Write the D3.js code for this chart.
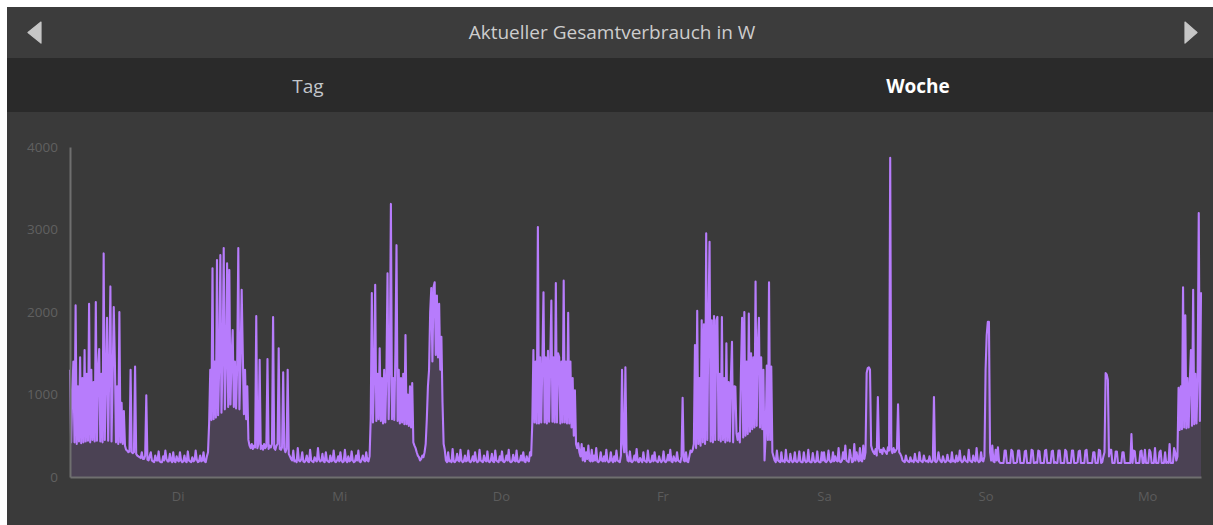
<!DOCTYPE html>
<html lang="de">
<head>
<meta charset="utf-8">
<title>Aktueller Gesamtverbrauch</title>
<script src="https://cdn.jsdelivr.net/npm/d3@7"></script>
<style>
  html, body { margin: 0; padding: 0; background: #ffffff; }
  svg { display: block; }
  text { font-family: "Open Sans", "Noto Sans", sans-serif; }
</style>
</head>
<body>
<svg id="chart" width="1213" height="525"></svg>
<script>
// Leistungswerte in W, 10-Minuten-Raster, ab Montag 08:00
const montagStart = [
  1300, 420, 1000, 1400, 420, 2080, 400, 1100, 430, 1450, 410, 1200,
  420, 1540, 430, 1250, 440, 2100, 420, 1300, 450, 1150, 430, 2120,
  440, 1300, 1550, 430, 1250, 420, 2710, 450, 1200, 1930, 440, 1300,
  2310, 430, 1200, 2060, 1400, 420, 1100, 400, 2000, 420, 900, 400,
  800, 380, 330, 320, 300, 310, 1300, 300, 290, 300, 1340, 280,
  260, 250, 240, 230, 300, 220, 220, 260, 990, 210, 200, 250,
  300, 200, 190, 180, 260, 200, 200, 310, 190, 180, 180, 250,
  200, 320, 220, 190, 190, 280, 200, 180, 300, 190, 180, 250
];
const dienstag = [
  200, 190, 300, 200, 180, 190, 260, 190, 180, 310, 200, 190, 180, 240,
  190, 200, 320, 210, 180, 190, 260, 190, 200, 300, 190, 180, 250, 300,
  650, 1300, 690, 2530, 700, 1400, 720, 2630, 750, 1350, 2690, 780,
  1450, 2775, 820, 1400, 2590, 850, 2510, 880, 1450, 1780, 850, 1400,
  830, 1350, 2775, 820, 1400, 2270, 1500, 760, 1300, 700, 1100,
  450, 380, 350, 400, 340, 380, 360, 1950, 350, 400, 1420, 340, 380,
  330, 400, 350, 370, 1430, 340, 380, 360, 400, 1940, 350, 330, 380,
  400, 1560, 340, 330, 360, 1270, 350, 300, 340, 1300, 280,
  250, 220, 200, 320, 190, 200, 180, 350, 200, 190, 210, 300, 190, 180, 200,
  260, 190, 180, 330, 200, 190, 180, 240, 200, 190, 350, 210, 190, 200, 280,
  190, 180, 300, 200, 190, 180, 260, 190, 200, 320, 190, 180, 200, 250
];
const mittwoch = [
  190, 300, 200, 180, 190, 330, 200, 180, 250, 190, 200, 310, 200, 180,
  190, 260, 200, 320, 190, 180, 210, 260, 200, 190, 300, 200, 190, 250,
  700, 2230, 660, 1200, 2330, 680, 1250, 700, 1560, 680, 1200, 650, 1300,
  660, 1250, 2470, 700, 1300, 3310, 700, 1200, 690, 1500, 2810, 680, 1300,
  650, 1200, 660, 1250, 640, 1720, 640, 1000, 620, 1100, 600, 1140,
  420, 380, 350, 300, 260, 240, 200, 220, 260, 240, 300, 400,
  700, 1100, 1300, 2000, 2290, 1400, 2300, 2360, 1480, 2200, 1450, 2100, 1300, 1700, 900, 400, 330,
  200, 180, 300, 190, 200, 180, 340, 190, 180, 200, 280, 200, 190, 330, 200, 180, 190,
  260, 190, 200, 320, 190, 180, 200, 250, 190, 300, 200, 180, 190, 330, 200, 190,
  180, 260, 200, 190, 310, 190, 180, 200, 280, 190, 180, 320, 200, 190, 180, 250
];
const donnerstag = [
  200, 310, 190, 180, 200, 260, 200, 330, 190, 180, 190, 270, 200, 190,
  320, 190, 180, 200, 260, 200, 300, 190, 180, 250, 200, 190, 300, 260,
  650, 1540, 660, 1400, 650, 3030, 650, 1450, 660, 1400, 2240, 660, 1450,
  650, 1530, 670, 1400, 2140, 670, 1450, 660, 2350, 660, 1500, 1450, 650,
  1400, 660, 2380, 660, 1400, 650, 1990, 650, 1400, 600, 1200, 500, 1050,
  400, 350, 410, 300, 250, 400, 200, 350, 190, 300, 220, 380, 200, 190,
  330, 190, 260, 200, 350, 190, 180, 200, 300, 200, 190, 250, 190, 330,
  200, 180, 190, 300, 200, 180, 250, 190, 320, 200, 190, 180, 260,
  1300, 400, 300, 1330, 300, 200,
  190, 310, 190, 180, 200, 260, 200, 340, 190, 180, 230, 200, 180, 300, 200,
  190, 180, 320, 200, 180, 190, 260, 190, 300, 200, 190, 180, 250, 200, 180
];
const freitag = [
  200, 310, 190, 180, 200, 270, 200, 330, 190, 180, 250, 200, 190, 300,
  200, 190, 180, 250, 960, 200, 190, 300, 190, 180, 250, 320, 300, 330,
  400, 1600, 350, 2015, 400, 1200, 380, 1900, 420, 1850, 400, 2955,
  450, 1900, 2850, 430, 1900, 420, 1950, 450, 1900, 1940, 450, 1250,
  430, 1940, 450, 1200, 420, 1620, 440, 1150, 430, 1200, 1640, 420,
  1100, 1095, 530, 450, 530, 420, 1300, 1930, 480, 2000, 500, 1400,
  520, 1980, 550, 1500, 580, 1450, 600, 2370, 620, 1600, 1930, 600,
  1450, 580, 1300, 200, 500, 1350, 450, 2360, 450, 1340, 300,
  250, 200, 180, 320, 200, 190, 180, 300, 190, 200, 180, 330, 200, 190, 180,
  280, 200, 180, 190, 300, 190, 180, 200, 310, 190, 180, 180, 300, 200, 180,
  190, 330, 190, 180, 180, 290, 200, 180, 190, 310, 190, 180, 180, 300, 200
];
const samstag = [
  300, 190, 180, 200, 320, 200, 180, 190, 300, 190, 250, 200, 190,
  350, 190, 180, 200, 300, 220, 380, 200, 190, 180, 330, 250, 180,
  190, 400, 200, 300, 220, 190, 350, 200, 190, 380, 220, 300,
  1260, 1320, 1330, 1300, 380,
  330, 300, 280, 340, 260, 970, 350, 300, 330, 280, 350, 320,
  300, 280, 360, 320, 3870, 330, 290, 350, 300, 320, 340,
  880,
  300, 280, 250, 200, 190, 180, 260, 200, 190, 180, 240, 190, 200, 180, 280, 200,
  190, 180, 300, 200, 190, 180, 260, 200, 190, 200, 180, 250, 190, 180, 200, 970,
  190, 180, 200, 300, 220, 190, 180, 250, 200, 180, 190, 270, 200, 190, 180,
  300, 190, 200, 180, 260, 190, 200, 320, 200, 180, 190, 250, 200, 190, 180,
  330, 200, 190, 180, 260, 200, 190, 350, 200, 180, 190, 300, 200, 190, 250
];
const sonntag = [
  1300, 1720, 1880, 1880, 300,
  200, 380, 190, 180, 330, 200, 360, 190,
  170, 170, 170, 170, 320, 320, 170, 170, 170, 170, 330, 310,
  170, 170, 170, 180, 320, 320, 170, 170, 170, 170, 310, 320,
  170, 170, 170, 170, 330, 320, 170, 170, 180, 170, 320, 310,
  170, 170, 170, 170, 320, 330, 170, 170, 170, 170, 310, 320,
  170, 180, 170, 170, 320, 320, 170, 170, 170, 170, 330, 310,
  170, 170, 170, 170, 320, 320, 170, 170, 170, 180, 310, 320,
  170, 170, 170, 170, 320, 330, 170, 170, 170,
  170, 170, 300, 300, 170, 170, 170, 330, 320, 170, 180, 250, 300,
  1260, 1240, 1180,
  250, 330, 330, 170, 170, 170, 310, 310, 170, 170, 170, 170, 300, 300, 170, 170, 170,
  170, 170, 170, 520, 170, 320, 310, 170, 170, 170, 170, 310, 320, 170, 170, 330, 170
];
const montag = [
  170, 170, 330, 300, 170, 170, 170, 350, 170, 170, 170, 300, 320, 170,
  170, 170, 300, 170, 180, 170, 400, 170, 170, 170, 350, 300, 200, 250,
  1080, 570, 1100, 580, 2300, 600, 1960, 590, 1200, 600, 1150,
  1540, 620, 2270, 640, 1250, 650, 1200, 3200, 680, 2240
];

// Achsen
const yTicks = [0, 1000, 2000, 3000, 4000];
const kurzTage = ["So", "Mo", "Di", "Mi", "Do", "Fr", "Sa"];

const titel = "Aktueller Gesamtverbrauch in W";
const tabs = ["Tag", "Woche"];

const start = new Date(2024, 0, 8, 8, 0);   // Montag 08:00
const ende = d3.timeHour.offset(start, 168);
const schrittMin = 10;

const werte = [montagStart, dienstag, mittwoch, donnerstag, freitag, samstag, sonntag, montag].flat();
const reihe = werte.map((v, i) => ({ t: d3.timeMinute.offset(start, i * schrittMin), v }));

const svg = d3.select("#chart");

// Rahmen: Kopfzeile, Reiter, Diagrammfläche
svg.append("rect").attr("x", 7).attr("y", 7).attr("width", 1206).attr("height", 51).attr("fill", "#3c3c3c");
svg.append("rect").attr("x", 7).attr("y", 58).attr("width", 1206).attr("height", 54).attr("fill", "#2a2a2a");
svg.append("rect").attr("x", 7).attr("y", 112).attr("width", 1206).attr("height", 413).attr("fill", "#3a3a3a");

svg.append("text")
  .attr("x", 612).attr("y", 39)
  .attr("text-anchor", "middle")
  .attr("font-size", 19)
  .attr("fill", "#cdcdcd")
  .text(titel);

svg.append("path").attr("d", "M41,22L28,32.5L41,43Z").attr("fill", "#c6c6c6")
  .attr("stroke", "#c6c6c6").attr("stroke-width", 1.2).attr("stroke-linejoin", "round");
svg.append("path").attr("d", "M1185,22L1197,32.5L1185,43Z").attr("fill", "#c6c6c6")
  .attr("stroke", "#c6c6c6").attr("stroke-width", 1.2).attr("stroke-linejoin", "round");

svg.append("text")
  .attr("x", 308).attr("y", 93)
  .attr("text-anchor", "middle")
  .attr("font-size", 19)
  .attr("fill", "#c2c6ca")
  .text(tabs[0]);
svg.append("text")
  .attr("x", 918).attr("y", 93)
  .attr("text-anchor", "middle")
  .attr("font-size", 19)
  .attr("font-weight", "bold")
  .attr("fill", "#ffffff")
  .text(tabs[1]);

// Skalen
const x = d3.scaleTime().domain([start, ende]).range([70, 1201]);
const y = d3.scaleLinear().domain([0, 4000]).range([477, 147]);

const flaeche = d3.area()
  .x(d => x(d.t))
  .y0(y(0))
  .y1(d => y(d.v));
const linie = d3.line()
  .x(d => x(d.t))
  .y(d => y(d.v));

const plot = svg.append("g");
plot.append("path")
  .datum(reihe)
  .attr("d", flaeche)
  .attr("fill", "#b57bfa")
  .attr("fill-opacity", 0.14);
plot.append("path")
  .datum(reihe)
  .attr("d", linie)
  .attr("fill", "none")
  .attr("stroke", "#b77cfc")
  .attr("stroke-width", 2.1)
  .attr("stroke-linejoin", "round");

// Y-Achse
const yAchse = svg.append("g")
  .attr("transform", "translate(70,0)")
  .call(d3.axisLeft(y).tickValues(yTicks).tickFormat(d3.format("d"))
    .tickSize(0).tickSizeOuter(0).tickPadding(12));
yAchse.select(".domain").attr("stroke", "#6f6f6f").attr("stroke-width", 2);
yAchse.selectAll("text")
  .attr("fill", "#606060")
  .attr("font-size", 13.5)
  .attr("font-family", "\"Open Sans\", sans-serif");

// X-Achse
const xAchse = svg.append("g")
  .attr("transform", "translate(0,477)")
  .call(d3.axisBottom(x).ticks(d3.timeDay.every(1)).tickSize(0).tickSizeOuter(0).tickPadding(15)
    .tickFormat(d => kurzTage[d.getDay()]));
xAchse.select(".domain").attr("stroke", "#6f6f6f").attr("stroke-width", 2);
xAchse.selectAll("text")
  .attr("fill", "#5c5c5c")
  .attr("font-size", 13)
  .attr("font-family", "\"Open Sans\", sans-serif");
</script>
</body>
</html>
